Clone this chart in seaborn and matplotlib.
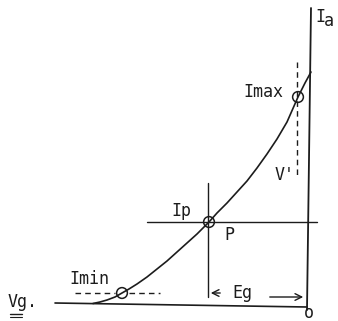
import numpy as np
import pandas as pd
import matplotlib
matplotlib.use("Agg")
import matplotlib.pyplot as plt
import seaborn as sns

# units: grid volts to the left of O (negative), anode current up
# characteristic curve
grid_v = [-214, -207, -200, -192, -185, -178, -170, -160, -150, -140, -130, -120,
          -110, -98, -90, -80, -70, -60, -50, -40, -30, -20, -9, -2, 4]
anode_i = [3.5, 5, 7, 10, 14, 18, 23, 30, 38, 46, 55, 64,
           73, 85, 94, 104, 115, 126, 139, 153, 168, 185, 210, 224, 235]

# working points
point_names = ['Imin', 'P', 'Imax']
point_v = [-185, -98, -9]
point_i = [14, 85, 210]

# axes of the sketch (scan is a bit tilted)
ia_axis_v = [0, 4]
ia_axis_i = [-3, 299]
vg_axis_v = [-252, 0]
vg_axis_i = [4, 0]

# construction lines
ip_line_v = [-160, 10]
ip_line_i = [85, 85]
p_vert_v = [-99, -99]
p_vert_i = [124, 10]
vdash_v = [-10, -10]
vdash_i = [245, 132]
imin_dash_v = [[-232, -192], [-178, -147]]
imin_dash_i = [14, 14]

ink = '#1c1c1c'

sns.set_theme(style="white")
plt.rcParams['font.family'] = ['DejaVu Sans Mono', 'DejaVu Sans']

fig = plt.figure(figsize=(3.38, 3.21), dpi=100)
ax = fig.add_axes([0, 0, 1, 1])

df = pd.DataFrame({'vg': grid_v, 'ia': anode_i})
sns.lineplot(data=df, x='vg', y='ia', sort=False, color=ink, lw=1.2, ax=ax)

ax.plot(ia_axis_v, ia_axis_i, color=ink, lw=1.3)
ax.plot(vg_axis_v, vg_axis_i, color=ink, lw=1.2)
ax.plot(ip_line_v, ip_line_i, color=ink, lw=1.0)
ax.plot(p_vert_v, p_vert_i, color=ink, lw=1.0)
ax.plot(vdash_v, vdash_i, color=ink, lw=1.0, ls=(0, (4, 3)))
for seg in imin_dash_v:
    ax.plot(seg, imin_dash_i, color=ink, lw=1.0, ls=(0, (4, 3)))

ax.scatter(point_v, point_i, s=60, facecolors='none', edgecolors=ink, linewidths=1.1, zorder=3)

# Eg dimension arrow
ax.annotate('', xy=(-99, 14), xytext=(-84, 14),
            arrowprops=dict(arrowstyle='->', color=ink, lw=1.0))
ax.annotate('', xy=(-1, 10), xytext=(-40, 10),
            arrowprops=dict(arrowstyle='->', color=ink, lw=1.0))

fs = 12
ax.text(-24, 215, 'Imax', ha='right', va='center', fontsize=fs, color=ink)
ax.text(-22, 132, "V'", ha='center', va='center', fontsize=fs, color=ink)
ax.text(-116, 96, 'Ip', ha='right', va='center', fontsize=fs, color=ink)
ax.text(-78, 72, 'P', ha='center', va='center', fontsize=fs, color=ink)
ax.text(-238, 28, 'Imin', ha='left', va='center', fontsize=fs, color=ink)
ax.text(-65, 14, 'Eg', ha='center', va='center', fontsize=fs, color=ink)
ax.text(8, 290, 'I', ha='left', va='center', fontsize=fs, color=ink)
ax.text(17, 286, 'a', ha='left', va='center', fontsize=fs, color=ink)
ax.text(-299, 5, 'Vg.', ha='left', va='center', fontsize=fs, color=ink)
ax.plot([-297, -285], [-7, -7], color=ink, lw=1.0)
ax.plot([-297, -285], [-9.5, -9.5], color=ink, lw=0.8)
ax.text(2, -6, 'o', ha='center', va='center', fontsize=12, color=ink)

ax.set_xlim(-307, 31)
ax.set_ylim(-14, 307)
ax.axis('off')

fig.savefig('out.png', dpi=100, facecolor='white')
